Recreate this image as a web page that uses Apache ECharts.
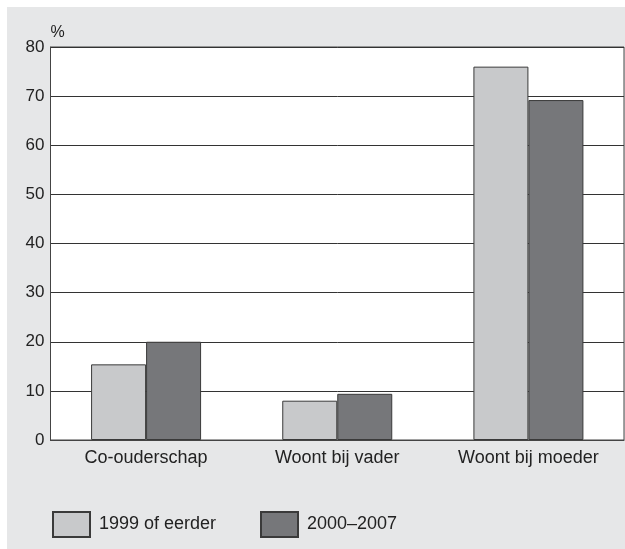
<!DOCTYPE html>
<html><head><meta charset="utf-8">
<script src="https://cdn.jsdelivr.net/npm/echarts@6/dist/echarts.min.js"></script>
<style>html,body{margin:0;padding:0;background:#fff}#c{width:625px;height:549px}</style>
</head><body><div id="c"></div>
<script>
const categories = ['Co-ouderschap', 'Woont bij vader', 'Woont bij moeder'];
const seriesNames = ['1999 of eerder', '2000–2007'];
const values1999 = [15.4, 8.0, 76.0];
const values2000 = [20.0, 9.4, 69.2];
const yTicks = [0, 10, 20, 30, 40, 50, 60, 70, 80];

const FONT = 'Liberation Sans, Arial, sans-serif';
const chart = echarts.init(document.getElementById('c'), null, {renderer: 'canvas'});
const option = {
  backgroundColor: '#ffffff',
  animation: false,
  graphic: [{
    type: 'rect', z: -10, silent: true,
    shape: {x: 7, y: 7, width: 620, height: 542},
    style: {fill: '#e6e7e8'}
  }],
  grid: {left: 50.5, right: 1, top: 47, bottom: 109, show: true, backgroundColor: '#ffffff', borderColor: '#444', borderWidth: 1},
  xAxis: {type: 'category', data: categories,
    axisLine: {show: true, lineStyle: {color: '#444'}}, axisTick: {show: false},
    axisLabel: {color: '#222', fontSize: 18, fontFamily: FONT, margin: 9}},
  yAxis: {type: 'value', min: yTicks[0], max: yTicks[yTicks.length - 1], interval: 10,
    name: '%', nameLocation: 'end', nameGap: 6,
    nameTextStyle: {color: '#222', fontSize: 16, fontFamily: FONT, align: 'left', padding: [0, 0, 0, 0]},
    axisLine: {show: true, lineStyle: {color: '#444', width: 1}},
    axisTick: {show: false},
    axisLabel: {color: '#222', fontSize: 17, fontFamily: FONT, margin: 6},
    splitLine: {show: true, lineStyle: {color: '#333', width: 1}}},
  legend: [
    {data: [seriesNames[0]], left: 52, top: 511, padding: 0, itemWidth: 37, itemHeight: 25, icon: 'rect',
     textStyle: {color: '#222', fontSize: 18, fontFamily: FONT, padding: [3, 0, 0, 4]}},
    {data: [seriesNames[1]], left: 260, top: 511, padding: 0, itemWidth: 37, itemHeight: 25, icon: 'rect',
     textStyle: {color: '#222', fontSize: 18, fontFamily: FONT, padding: [3, 0, 0, 4]}}
  ],
  series: [
    {name: seriesNames[0], type: 'bar', data: values1999,
     barWidth: 55, barGap: '0%',
     itemStyle: {color: '#c8c9cb', borderColor: '#3a3a3a', borderWidth: 1}},
    {name: seriesNames[1], type: 'bar', data: values2000,
     barWidth: 55, barGap: '0%',
     itemStyle: {color: '#76777a', borderColor: '#3a3a3a', borderWidth: 1}}
  ]
};
chart.setOption(option);
</script></body></html>
